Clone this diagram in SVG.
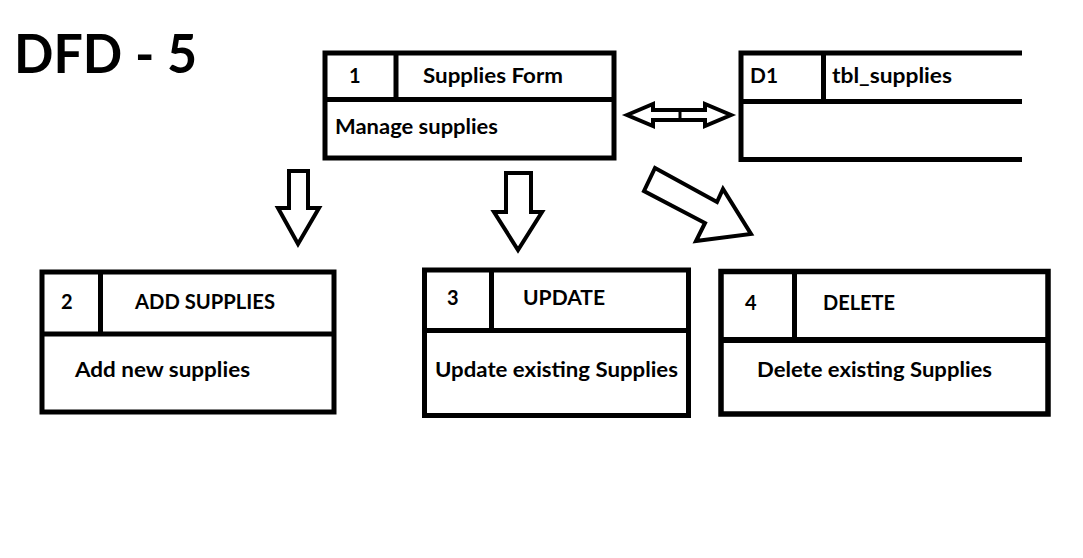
<svg xmlns="http://www.w3.org/2000/svg" width="1083" height="558" viewBox="0 0 1083 558">
<style>
.bx{fill:none;stroke:#000;stroke-width:5;stroke-linejoin:miter}
.ln{fill:none;stroke:#000;stroke-width:5}
.ar{fill:#fff;stroke:#000;stroke-width:4;stroke-linejoin:miter}
.t{font-family:Lato,"Open Sans","Liberation Sans",sans-serif;font-weight:bold;font-size:20px;fill:#000}
.title{font-family:Lato,"Open Sans","Liberation Sans",sans-serif;font-weight:bold;font-size:53px;fill:#000}
</style>
<rect width="1083" height="558" fill="#fff"/>
<text class="title" x="14" y="73" textLength="183" lengthAdjust="spacingAndGlyphs">DFD - 5</text>

<g id="p1">
<rect class="bx" x="325" y="53" width="289" height="105"/>
<line class="ln" x1="325" y1="99.5" x2="614" y2="99.5"/>
<line class="ln" x1="396" y1="53" x2="396" y2="99.5"/>
<text class="t" x="349" y="83">1</text>
<text class="t" x="423" y="83" textLength="140" lengthAdjust="spacingAndGlyphs">Supplies Form</text>
<text class="t" x="335" y="134" textLength="163" lengthAdjust="spacingAndGlyphs">Manage supplies</text>
</g>

<g id="d1">
<path class="ln" d="M1022,53 H741 V159.5 H1022 M741,101.5 H1022 M823.5,53 V101.5"/>
<text class="t" x="750" y="83" textLength="28" lengthAdjust="spacingAndGlyphs">D1</text>
<text class="t" x="832" y="83" textLength="120" lengthAdjust="spacingAndGlyphs">tbl_supplies</text>
</g>

<g id="p2">
<rect class="bx" x="42" y="272" width="292" height="140"/>
<line class="ln" x1="42" y1="334" x2="334" y2="334"/>
<line class="ln" x1="100.5" y1="272" x2="100.5" y2="334"/>
<text class="t" x="61" y="309">2</text>
<text class="t" x="135" y="309" textLength="140" lengthAdjust="spacingAndGlyphs">ADD SUPPLIES</text>
<text class="t" x="75" y="377" textLength="175" lengthAdjust="spacingAndGlyphs">Add new supplies</text>
</g>

<g id="p3">
<rect class="bx" x="424.5" y="270" width="264" height="145.5"/>
<line class="ln" x1="424.5" y1="330.5" x2="688.5" y2="330.5"/>
<line class="ln" x1="491.5" y1="270" x2="491.5" y2="330.5"/>
<text class="t" x="447" y="305">3</text>
<text class="t" x="523" y="305" textLength="82" lengthAdjust="spacingAndGlyphs">UPDATE</text>
<text class="t" x="435" y="377" textLength="243" lengthAdjust="spacingAndGlyphs">Update existing Supplies</text>
</g>

<g id="p4">
<rect class="bx" x="721" y="271.5" width="327" height="142.5" style="stroke-width:5.5"/>
<line class="ln" x1="721" y1="340" x2="1048" y2="340" style="stroke-width:6"/>
<line class="ln" x1="794.5" y1="271.5" x2="794.5" y2="340"/>
<text class="t" x="745" y="310">4</text>
<text class="t" x="823" y="310" textLength="72" lengthAdjust="spacingAndGlyphs">DELETE</text>
<text class="t" x="757" y="377" textLength="235" lengthAdjust="spacingAndGlyphs">Delete existing Supplies</text>
</g>

<g id="connectors">
<path class="ar" d="M627,115 L653,104 L653,110 L705,110 L705,104 L731,115 L705,126 L705,120 L653,120 L653,126 Z"/>
<line x1="680" y1="110" x2="680" y2="120" stroke="#000" stroke-width="3"/>
<path class="ar" d="M289,171 L308,171 L308,208 L319,208 L298,244 L278,208 L289,208 Z"/>
<path class="ar" d="M506,173 L531,173 L531,212 L542,212 L518,250 L494,212 L506,212 Z"/>
<path class="ar" d="M655,168 L717,202 L723,189 L751,234 L696,241 L705,223 L644,191 Z"/>
</g>
</svg>
